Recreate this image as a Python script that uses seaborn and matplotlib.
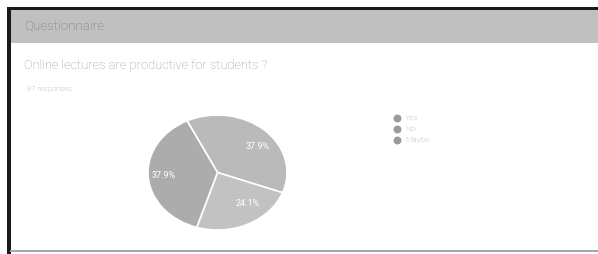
import matplotlib
matplotlib.use("Agg")
import matplotlib.pyplot as plt
import seaborn as sns
from matplotlib.patches import Rectangle

sns.set_theme(style="white")
plt.rcParams['font.family'] = ['Roboto', 'DejaVu Sans']

header = "Questionnaire"
question = "Online lectures are productive for students ?"
responses = "87 responses"
categories = ["Yes", "No", "Maybe"]
values = [37.9, 24.1, 37.9]
labels = ["37.9%", "24.1%", "37.9%"]

W, H = 598, 254
fig = plt.figure(figsize=(W / 100, H / 100), dpi=100)
fig.patch.set_facecolor("white")

def px(x, y):
    return x / W, 1 - y / H

# background frame
bg = fig.add_axes([0, 0, 1, 1])
bg.set_xlim(0, W)
bg.set_ylim(H, 0)
bg.axis("off")
bg.add_patch(Rectangle((10, 10), W - 10, 33, color="#c0c0c0", lw=0))
bg.add_patch(Rectangle((7, 7), W - 7, 3, color="#1a1a1a", lw=0))
bg.add_patch(Rectangle((7, 7), 4, H - 7, color="#1a1a1a", lw=0))
bg.add_patch(Rectangle((10, 250), W - 10, 2, color="#a8a8a8", lw=0))

bg.text(24, 26, header, fontsize=9.6, color="#7a7a7a", va="center", ha="left",
        fontweight="light")
bg.text(24, 65, question, fontsize=9.3, color="#9a9a9a", va="center", ha="left",
        fontweight="light")
bg.text(27, 89, responses, fontsize=5.6, color="#9a9a9a", va="center", ha="left",
        fontweight="light")

# pie
colors = sns.color_palette(["#bababa", "#c2c2c2", "#acacac"])
l, b = px(148, 230)
ax = fig.add_axes([l, b, 139 / W, 115 / H])
wedges, texts = ax.pie(values, colors=colors, startangle=116, counterclock=False,
                       labels=labels, labeldistance=0.6,
                       wedgeprops=dict(edgecolor="white", linewidth=1.2),
                       textprops=dict(color="white", fontsize=6.5))
ax.set_aspect("auto")
ax.set_xlim(-1.0, 1.0)
ax.set_ylim(-1.0, 1.0)

# legend
for i, cat in enumerate(categories):
    y = 118 + i * 11
    bg.scatter([397], [y], s=22, color="#9a9a9a", zorder=3)
    bg.text(405, y, cat, fontsize=6, color="#9a9a9a", va="center", ha="left",
            fontweight="light")

fig.savefig("out.png", dpi=100, facecolor="white")
